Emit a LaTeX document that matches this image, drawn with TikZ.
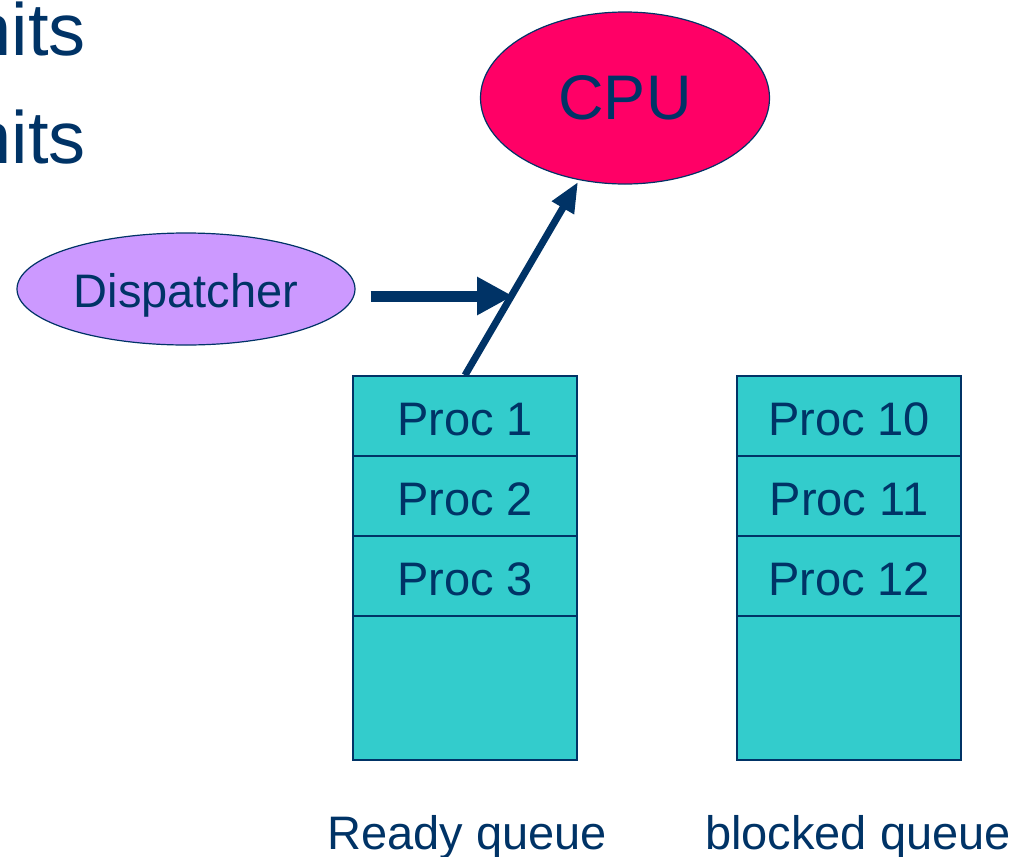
\documentclass[tikz,border=0pt]{standalone}
\usepackage{fontspec}
\setmainfont{Liberation Sans}
\usetikzlibrary{shapes.geometric,arrows.meta}
\definecolor{navy}{HTML}{003366}
\definecolor{cpupink}{HTML}{FF0066}
\definecolor{lilac}{HTML}{CC99FF}
\definecolor{teal}{HTML}{33CCCC}
\tikzset{
  txt/.style={text=navy,font=\fontsize{47}{56}\selectfont,inner sep=0pt},
  cell/.style={draw=navy,line width=1.5pt,fill=teal,minimum width=224pt,inner sep=0pt,
    text=navy,font=\fontsize{47}{56}\selectfont,text height=38pt,text depth=0pt},
  row/.style={cell,minimum height=80pt},
  tail/.style={cell,minimum height=144pt},
  bigarrow/.style={draw=navy,line width=11pt,-{Triangle[length=36pt,width=36pt]}},
  slimarrow/.style={draw=navy,line width=7pt,-{Triangle[length=30pt,width=24pt]}}
}
\begin{document}
\begin{tikzpicture}[x=1pt,y=-1pt]
\useasboundingbox (0,0) rectangle (1034,857);
\begin{scope}
\clip (0,0) rectangle (1034,857);
% heading text running in from the left
\node[txt,font=\fontsize{74}{88}\selectfont,anchor=base east] (h1) at (86,55) {nits};
\node[txt,font=\fontsize{74}{88}\selectfont,anchor=base east] (h2) at (86,163) {nits};
\end{scope}

% CPU and dispatcher
\node[ellipse,draw=navy,line width=1.2pt,fill=cpupink,minimum width=289pt,minimum height=172pt,
  txt,font=\fontsize{63}{75}\selectfont] (cpu) at (625,98) {CPU};
\node[ellipse,draw=navy,line width=1.2pt,fill=lilac,minimum width=338pt,minimum height=112pt,txt,
  text height=36pt,text depth=0pt] (disp) at (186,289) {Dispatcher};

% ready queue
\node[row] (r1) at (465,416) {Proc 1};
\node[row] (r2) at (465,496) {Proc 2};
\node[row] (r3) at (465,576) {Proc 3};
\node[tail] (r4) at (465,688) {};
% blocked queue
\node[row] (b1) at (849,416) {Proc 10};
\node[row] (b2) at (849,496) {Proc 11};
\node[row] (b3) at (849,576) {Proc 12};
\node[tail] (b4) at (849,688) {};

\node[txt,anchor=base] (lr) at (467,849) {Ready queue};
\node[txt,anchor=base] (lb) at (858,849) {blocked queue};

% arrows
\coordinate (dstart) at ([xshift=15pt]disp.east |- 0,296);
\coordinate (dend) at (513,296);
\coordinate (cputip) at (578,182);
\draw[bigarrow] (dstart) -- (dend);
\draw[slimarrow] (r1.north) -- (cputip);
\end{tikzpicture}
\end{document}
